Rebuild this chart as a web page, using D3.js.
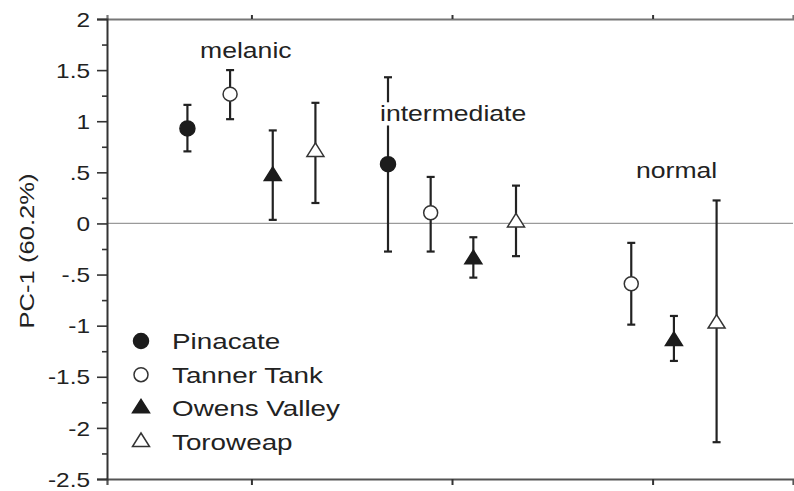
<!DOCTYPE html>
<html>
<head>
<meta charset="utf-8">
<script src="https://cdn.jsdelivr.net/npm/d3@7"></script>
<style>
  html, body { margin: 0; padding: 0; background: #fff; }
  svg { display: block; font-family: "Liberation Sans", Arial, Helvetica, sans-serif; }
</style>
</head>
<body>
<svg id="chart" width="794" height="491"></svg>
<script>
// ---- data ----
const groups = ["melanic", "intermediate", "normal"];
const series = ["Pinacate", "Tanner Tank", "Owens Valley", "Toroweap"];
// mean PC-1 per series, per group (null = not sampled)
const meanPinacate = [0.93, 0.58, null];
const meanTanner   = [1.265, 0.105, -0.59];
const meanOwens    = [0.465, -0.35, -1.15];
const meanToroweap = [0.70, 0.01, -0.98];
// error bar upper ends
const hiPinacate = [1.16, 1.43, null];
const hiTanner   = [1.50, 0.455, -0.19];
const hiOwens    = [0.91, -0.135, -0.905];
const hiToroweap = [1.18, 0.37, 0.225];
// error bar lower ends
const loPinacate = [0.705, -0.275, null];
const loTanner   = [1.02, -0.275, -0.99];
const loOwens    = [0.035, -0.53, -1.345];
const loToroweap = [0.20, -0.32, -2.14];
// y ticks
const yMajorTicks = [-2.5, -2, -1.5, -1, -0.5, 0, 0.5, 1, 1.5, 2];
const yTickLabels = ["-2.5", "-2", "-1.5", "-1", "-.5", "0", ".5", "1", "1.5", "2"];
const yMinorTicks = [-2.25, -1.75, -1.25, -0.75, -0.25, 0.25, 0.75, 1.25, 1.75];
const yTitle = "PC-1 (60.2%)";

(function () {
const means = [meanPinacate, meanTanner, meanOwens, meanToroweap];
const his = [hiPinacate, hiTanner, hiOwens, hiToroweap];
const los = [loPinacate, loTanner, loOwens, loToroweap];
const shapes = ["circle", "circle", "triangle", "triangle"];
const filled = [true, false, true, false];

const points = [];
series.forEach((s, si) => {
  groups.forEach((g, gi) => {
    if (means[si][gi] == null) return;
    points.push({ series: s, si, group: g, gi, mean: means[si][gi], hi: his[si][gi], lo: los[si][gi] });
  });
});

// ---- layout ----
const svg = d3.select("#chart");
const mLeft = 107, mRight = 793, mTop = 19, mBottom = 479;
const STRETCH = 1.22;
const ink = "#222";

const y = d3.scaleLinear().domain([-2.5, 2]).range([mBottom, mTop]);
const xg = d3.scaleLinear().domain([-0.72, 2.7]).range([mLeft, mRight]);
const xs = d3.scalePoint().domain(series).range([-64, 64]);
const px = d => xg(d.gi) + xs(d.series);

// zero reference line
svg.append("line")
  .attr("x1", mLeft).attr("x2", mRight)
  .attr("y1", y(0)).attr("y2", y(0))
  .attr("stroke", "#9a9a9a").attr("stroke-width", 1.2);

// frame: top and bottom lines with group ticks
const gBottom = svg.append("g").attr("transform", `translate(0,${y(-2.5)})`)
  .call(d3.axisBottom(xg).tickValues([0, 1, 2]).tickSize(6).tickFormat(""));
const gTop = svg.append("g").attr("transform", `translate(0,${y(2)})`)
  .call(d3.axisTop(xg).tickValues([0, 1, 2]).tickSize(4).tickFormat(""));
[gBottom, gTop].forEach(g => {
  g.select(".domain").attr("stroke", "#555").attr("stroke-width", 2.2);
  g.selectAll(".tick line").attr("stroke", "#333").attr("stroke-width", 2);
});
gTop.select(".domain").attr("stroke", "#777");

// left axis
const gLeft = svg.append("g").attr("transform", `translate(${mLeft},0)`)
  .call(d3.axisLeft(y).tickValues(yMajorTicks).tickSize(10)
    .tickFormat((d, i) => yTickLabels[i]));
gLeft.select(".domain").attr("stroke", "#333").attr("stroke-width", 2);
gLeft.selectAll(".tick line").attr("stroke", "#333").attr("stroke-width", 1.6);
gLeft.selectAll(".tick text")
  .attr("x", 0).attr("dy", "0.36em")
  .attr("text-anchor", "end")
  .attr("transform", `translate(-17,0) scale(${STRETCH},1)`)
  .attr("font-size", 20).attr("fill", ink)
  .attr("font-family", "'Liberation Sans', Arial, sans-serif");
const gMinor = svg.append("g").attr("transform", `translate(${mLeft},0)`)
  .call(d3.axisLeft(y).tickValues(yMinorTicks).tickSize(5).tickFormat(""));
gMinor.select(".domain").remove();
gMinor.selectAll(".tick line").attr("stroke", "#333").attr("stroke-width", 1.6);

// y title
svg.append("text")
  .attr("transform", `translate(34,${(mTop + mBottom) / 2 + 2}) rotate(-90) scale(${STRETCH},1)`)
  .attr("text-anchor", "middle")
  .attr("font-size", 21).attr("fill", ink)
  .text(yTitle);

// error bars
const eb = svg.append("g").attr("stroke", ink).attr("stroke-width", 2.2).attr("fill", "none");
eb.selectAll("line.v").data(points).join("line").attr("class", "v")
  .attr("x1", px).attr("x2", px)
  .attr("y1", d => y(d.hi)).attr("y2", d => y(d.lo));
eb.selectAll("line.ch").data(points).join("line").attr("class", "ch")
  .attr("x1", d => px(d) - 4).attr("x2", d => px(d) + 4)
  .attr("y1", d => y(d.hi)).attr("y2", d => y(d.hi));
eb.selectAll("line.cl").data(points).join("line").attr("class", "cl")
  .attr("x1", d => px(d) - 4).attr("x2", d => px(d) + 4)
  .attr("y1", d => y(d.lo)).attr("y2", d => y(d.lo));

// markers
function triPath(w, h) {
  return `M0,${-2 * h / 3}L${w / 2},${h / 3}L${-w / 2},${h / 3}Z`;
}
function drawMarker(g, si) {
  if (shapes[si] === "circle") {
    g.append("circle").attr("r", filled[si] ? 7.5 : 7);
  } else {
    g.append("path").attr("d", triPath(17, 13.5));
  }
  g.selectAll("circle,path")
    .attr("fill", filled[si] ? "#1c1c1c" : "#fff")
    .attr("stroke", filled[si] ? "#1c1c1c" : "#333")
    .attr("stroke-width", 1.5);
}
svg.append("g").selectAll("g").data(points).join("g")
  .attr("transform", d => `translate(${px(d)},${y(d.mean)})`)
  .each(function (d) { drawMarker(d3.select(this), d.si); });

// group labels
const labelPos = [
  { text: "melanic", x: 200, y: 58 },
  { text: "intermediate", x: 380, y: 121 },
  { text: "normal", x: 636, y: 178 }
];
labelPos.forEach(l => {
  const g = svg.append("g").attr("transform", `translate(${l.x},${l.y}) scale(${STRETCH},1)`);
  const t = g.append("text").attr("font-size", 21.8).attr("fill", ink).text(l.text);
  const bb = t.node().getBBox();
  g.insert("rect", "text")
    .attr("x", bb.x - 1).attr("y", bb.y + 1)
    .attr("width", bb.width + 2).attr("height", bb.height - 1)
    .attr("fill", "#fff");
});

// legend
const legend = svg.append("g");
const legY = d3.scalePoint().domain(series).range([341, 442]);
series.forEach((s, si) => {
  const g = legend.append("g").attr("transform", `translate(141,${legY(s)})`);
  drawMarker(g, si);
  legend.append("text")
    .attr("transform", `translate(172,${legY(s) + 8}) scale(${STRETCH},1)`)
    .attr("font-size", 22.8).attr("fill", ink)
    .text(s);
});
})();
</script>
</body>
</html>
